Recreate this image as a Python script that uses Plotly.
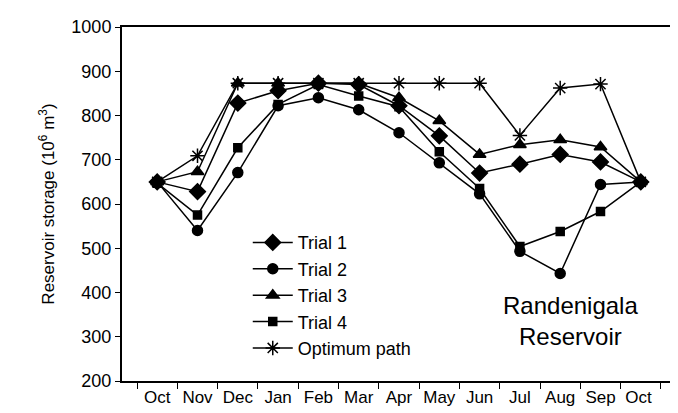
import plotly.graph_objects as go

# Data
months = ["Oct", "Nov", "Dec", "Jan", "Feb", "Mar", "Apr", "May", "Jun", "Jul", "Aug", "Sep", "Oct "]
trial_1 = [650, 628, 828, 856, 873, 870, 822, 754, 670, 690, 712, 695, 650]
trial_2 = [650, 540, 671, 822, 840, 813, 761, 693, 623, 493, 443, 644, 650]
trial_3 = [650, 673, 873, 873, 873, 873, 840, 788, 712, 734, 745, 729, 650]
trial_4 = [647, 575, 727, 825, 870, 844, 820, 718, 635, 504, 538, 583, 650]
optimum = [650, 709, 873, 873, 873, 873, 873, 873, 873, 755, 862, 871, 650]

series = [
    ("Trial 1", trial_1, "diamond", 12),
    ("Trial 2", trial_2, "circle", 10),
    ("Trial 3", trial_3, "triangle-up", 11),
    ("Trial 4", trial_4, "square", 8),
    ("Optimum path", optimum, "asterisk-open", 12),
]

fig = go.Figure()
for name, vals, sym, size in series:
    fig.add_trace(go.Scatter(
        x=months, y=vals, name=name, mode="lines+markers",
        line=dict(color="black", width=1.5),
        marker=dict(symbol=sym, size=size, color="black",
                    line=dict(color="black", width=1.5)),
    ))

fig.add_annotation(
    x=0.81, y=0.17, xref="paper", yref="paper",
    xanchor="center", yanchor="middle",
    text="Randenigala<br>Reservoir", showarrow=False,
    font=dict(size=24, color="black"), align="center",
)

fig.update_layout(
    width=678, height=413,
    margin=dict(l=114, r=8, t=19, b=40),
    paper_bgcolor="white", plot_bgcolor="white",
    font=dict(family="Arial, 'Liberation Sans', sans-serif", color="black", size=17),
    showlegend=True,
    legend=dict(x=0.227, y=0.443, xanchor="left", yanchor="top",
                bgcolor="rgba(0,0,0,0)", font=dict(size=18),
                tracegroupgap=0, itemwidth=40),
)
fig.update_xaxes(
    type="category", tickson="boundaries", ticks="outside", ticklen=6,
    tickangle=0, tickcolor="black", showline=True, linecolor="black",
    linewidth=2, mirror=True, showgrid=False, tickfont=dict(size=17),
)
fig.update_yaxes(
    range=[200, 1000], dtick=100, ticks="outside", ticklen=5,
    tickcolor="black", showline=True, linecolor="black", linewidth=2, mirror=True,
    showgrid=False, zeroline=False, tickfont=dict(size=18),
    title=dict(text="Reservoir storage (10<sup>6</sup> m<sup>3</sup>)",
               font=dict(size=17), standoff=12),
)

fig.write_html("out.html")
